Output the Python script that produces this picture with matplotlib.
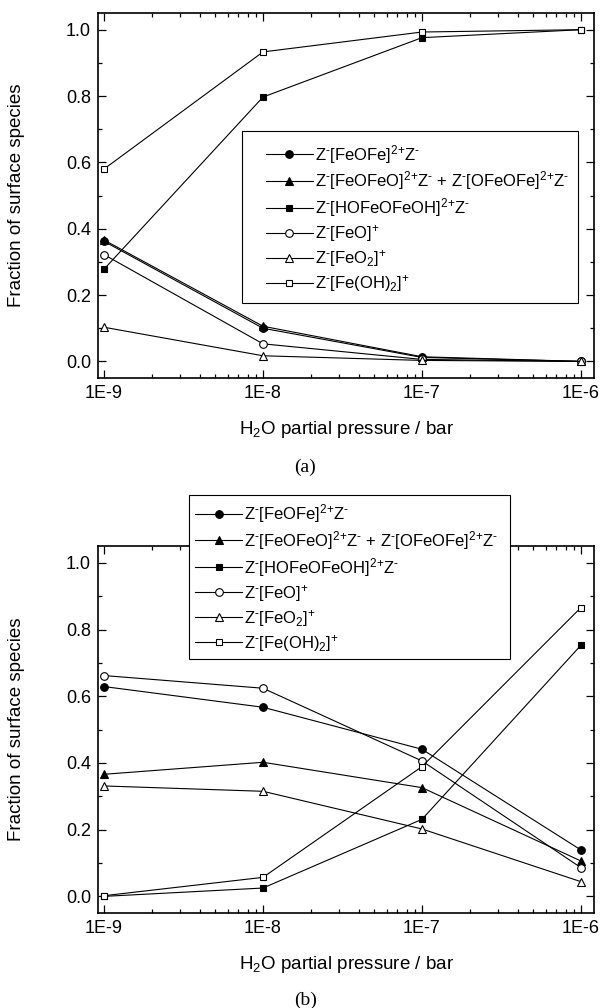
import numpy as np
import matplotlib
matplotlib.use("Agg")
import matplotlib.pyplot as plt
from matplotlib.patches import Rectangle
from matplotlib.ticker import FixedLocator, LogLocator, MultipleLocator, NullFormatter

plt.rcParams['font.family'] = ['Liberation Sans', 'DejaVu Sans']
plt.rcParams['mathtext.fontset'] = 'custom'
plt.rcParams['mathtext.rm'] = 'Liberation Sans'
plt.rcParams['mathtext.it'] = 'Liberation Sans:italic'
plt.rcParams['mathtext.bf'] = 'Liberation Sans:bold'

# %% data
pressure = [1e-9, 1e-8, 1e-7, 1e-6]
xtick_labels = ['1E-9', '1E-8', '1E-7', '1E-6']

M = r'$^{\text{-}}$'
P2 = r'$^{2{+}}$'
P1 = r'$^{{+}}$'
labels = [f'Z{M}[FeOFe]{P2}Z{M}',
          f'Z{M}[FeOFeO]{P2}Z{M} + Z{M}[OFeOFe]{P2}Z{M}',
          f'Z{M}[HOFeOFeOH]{P2}Z{M}',
          f'Z{M}[FeO]{P1}',
          f'Z{M}[FeO$_{{2}}$]{P1}',
          f'Z{M}[Fe(OH)$_{{2}}$]{P1}']

# panel (a)
a_feofe = [0.362, 0.100, 0.012, 0.0]
a_feofeo = [0.366, 0.106, 0.014, 0.0]
a_hofeofeoh = [0.278, 0.797, 0.976, 1.0]
a_feo = [0.322, 0.053, 0.006, 0.0]
a_feo2 = [0.103, 0.017, 0.003, 0.0]
a_feoh2 = [0.580, 0.933, 0.993, 1.0]

# panel (b)
b_feofe = [0.629, 0.567, 0.441, 0.139]
b_feofeo = [0.366, 0.402, 0.326, 0.106]
b_hofeofeoh = [0.0, 0.025, 0.231, 0.753]
b_feo = [0.662, 0.624, 0.406, 0.086]
b_feo2 = [0.331, 0.315, 0.202, 0.044]
b_feoh2 = [0.002, 0.057, 0.389, 0.866]

styles = [dict(marker='o', mfc='black', ms=5.5),
          dict(marker='^', mfc='black', ms=6),
          dict(marker='s', mfc='black', ms=4.6),
          dict(marker='o', mfc='white', ms=5.5),
          dict(marker='^', mfc='white', ms=6),
          dict(marker='s', mfc='white', ms=4.6)]

fig = plt.figure(figsize=(6.03, 10.08), dpi=100)
ax_a = fig.add_axes([0.1625, 0.625, 0.8226, 0.362])
ax_b = fig.add_axes([0.1625, 0.0942, 0.8226, 0.364])


def draw_panel(ax, series, leg_anchor, box):
    handles = []
    for vals, st, lab in zip(series, styles, labels):
        h, = ax.plot(pressure, vals, color='black', lw=0.8, mec='black',
                     mew=0.8, label=lab, **st)
        handles.append(h)
    ax.set_xscale('log')
    ax.set_xlim(10 ** -9.038, 10 ** -5.918)
    ax.set_ylim(-0.05, 1.05)
    ax.xaxis.set_major_locator(FixedLocator(pressure))
    ax.set_xticklabels(xtick_labels)
    ax.xaxis.set_minor_locator(LogLocator(base=10, subs=np.arange(2, 10)))
    ax.xaxis.set_minor_formatter(NullFormatter())
    ax.yaxis.set_major_locator(MultipleLocator(0.2))
    ax.yaxis.set_minor_locator(MultipleLocator(0.1))
    ax.yaxis.set_major_formatter(plt.FuncFormatter(lambda v, p: f'{v:.1f}'))
    ax.tick_params(which='both', direction='in', top=True, right=True,
                   labelsize=13, width=0.9)
    ax.tick_params(which='major', length=5.8, pad=5)
    ax.tick_params(which='minor', length=3)
    for sp in ax.spines.values():
        sp.set_linewidth(1.2)
    ax.set_ylabel('Fraction of surface species', fontsize=13.5)
    ax.yaxis.set_label_coords(-0.147, 0.5)
    ax.set_xlabel('H$_{2}$O partial pressure / bar', fontsize=13.5)
    ax.xaxis.set_label_coords(0.5, -0.112)

    # legend frame drawn as a patch so it can sit partly outside the axes
    rect = Rectangle((box[0], box[1]), box[2], box[3], transform=ax.transAxes,
                     facecolor='white', edgecolor='black', lw=0.8,
                     clip_on=False, zorder=5)
    ax.add_patch(rect)
    leg = ax.legend(handles=handles, loc='upper left', bbox_to_anchor=leg_anchor,
                    frameon=False, fontsize=12, handlelength=2.8,
                    handletextpad=0.15, labelspacing=0.24, borderpad=0,
                    borderaxespad=0)
    leg.set_zorder(6)


draw_panel(ax_a, [a_feofe, a_feofeo, a_hofeofeoh, a_feo, a_feo2, a_feoh2],
           (0.339, 0.645), (0.291, 0.205, 0.676, 0.472))
draw_panel(ax_b, [b_feofe, b_feofeo, b_hofeofeoh, b_feo, b_feo2, b_feoh2],
           (0.196, 1.12), (0.183, 0.692, 0.648, 0.447))

fig.text(0.506, 0.545, '(a)', ha='center', va='top', fontsize=14,
         family='Liberation Serif')
fig.text(0.506, 0.016, '(b)', ha='center', va='top', fontsize=14,
         family='Liberation Serif')

fig.savefig('out.png', dpi=100)
